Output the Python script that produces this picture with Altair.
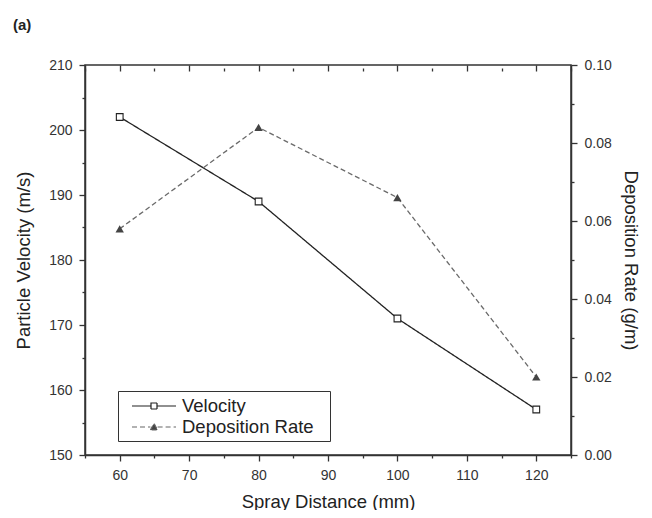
import altair as alt
import pandas as pd

distance = [60, 80, 100, 120]
velocity = [202, 189, 171, 157]
deposition = [0.058, 0.084, 0.066, 0.020]
series_names = ["Velocity", "Deposition Rate"]

x_ticks = list(range(55, 126, 5))
v_ticks = list(range(150, 211, 5))
d_ticks = [round(i * 0.01, 2) for i in range(0, 11)]

vel_df = pd.DataFrame({"x": distance, "y": velocity, "series": series_names[0]})
dep_df = pd.DataFrame({"x": distance, "y": deposition, "series": series_names[1]})

FONT = "Liberation Sans"
AX = "#333333"
xscale = alt.Scale(domain=[55, 125], nice=False, zero=False)
vscale = alt.Scale(domain=[150, 210], nice=False, zero=False)
dscale = alt.Scale(domain=[0, 0.10], nice=False, zero=True)

VEL_PATH = "M-2.2,0H-0.3M0.3,0H2.2M-0.3,-0.3H0.3V0.3H-0.3Z"
DEP_PATH = "M-2.2,0H-0.36M0.36,0H2.2M-0.36,0.3L0,-0.36L0.36,0.3Z"
IS_VEL = "datum.value === 'Velocity'"

legend = alt.Legend(
    title="__",
    titleOrient="right",
    titleColor="white",
    titleFontSize=10,
    titlePadding=0,
    orient="none",
    legendX=33,
    legendY=326,
    strokeColor=AX,
    fillColor="white",
    padding=4,
    cornerRadius=0,
    labelFont=FONT,
    labelFontSize=18.5,
    labelColor="#222222",
    symbolSize=400,
    symbolStrokeWidth=1.2,
    symbolOffset=21,
    rowPadding=0,
    labelOffset=17,
    symbolType=alt.ExprRef(expr=f"{IS_VEL} ? '{VEL_PATH}' : '{DEP_PATH}'"),
    symbolFillColor=alt.ExprRef(expr=f"{IS_VEL} ? 'white' : '#444444'"),
    symbolStrokeColor=alt.ExprRef(expr=f"{IS_VEL} ? '#222222' : '#666666'"),
)

dash = alt.StrokeDash(
    "series:N",
    scale=alt.Scale(domain=series_names, range=[[1, 0], [5, 3]]),
    legend=legend,
)

x_bottom = alt.Axis(
    values=x_ticks,
    labelExpr="datum.value % 10 === 0 ? datum.label : ''",
    tickSize={"condition": {"test": "datum.value % 10 !== 0", "value": 3}, "value": 6},
    title="Spray Distance (mm)",
    titlePadding=10,
    grid=False,
)
x_top = alt.Axis(
    orient="top", values=x_ticks, labels=False, title=None, domain=False,
    offset=-6,
    tickSize={"condition": {"test": "datum.value % 10 !== 0", "value": 3}, "value": 6},
    grid=False,
)
v_axis = alt.Axis(
    orient="left",
    values=v_ticks,
    labelExpr="datum.value % 10 === 0 ? datum.label : ''",
    tickSize={"condition": {"test": "datum.value % 10 !== 0", "value": 3}, "value": 6},
    title="Particle Velocity (m/s)",
    titlePadding=15,
    grid=False,
)
d_axis = alt.Axis(
    orient="right",
    values=d_ticks,
    format=".2f",
    labelExpr="round(datum.value * 100) % 2 === 0 ? datum.label : ''",
    tickSize={"condition": {"test": "round(datum.value * 100) % 2 !== 0", "value": 3}, "value": 6},
    title="Deposition Rate (g/m)",
    titleAngle=90,
    titlePadding=9,
    grid=False,
)

vel_line = alt.Chart(vel_df).mark_line(color="#222222", strokeWidth=1.3).encode(
    x=alt.X("x:Q", scale=xscale, axis=x_bottom),
    y=alt.Y("y:Q", scale=vscale, axis=v_axis),
    strokeDash=dash,
)
vel_pts = alt.Chart(vel_df).mark_point(
    shape="square", size=45, filled=True, fill="white", stroke="#222222", strokeWidth=1.1, opacity=1
).encode(
    x=alt.X("x:Q", scale=xscale, axis=x_top),
    y=alt.Y("y:Q", scale=vscale, axis=None),
)
dep_line = alt.Chart(dep_df).mark_line(color="#6a6a6a", strokeWidth=1.3).encode(
    x=alt.X("x:Q", scale=xscale, axis=None),
    y=alt.Y("y:Q", scale=dscale, axis=d_axis),
    strokeDash=dash,
)
dep_pts = alt.Chart(dep_df).mark_point(
    shape="triangle-up", size=70, filled=True, color="#444444", opacity=1
).encode(
    x=alt.X("x:Q", scale=xscale, axis=None),
    y=alt.Y("y:Q", scale=dscale, axis=None),
)

chart = (
    alt.layer(vel_line, vel_pts, dep_line, dep_pts)
    .resolve_scale(y="independent", x="independent", strokeDash="shared")
    .resolve_axis(x="independent", y="independent")
    .properties(
        width=486,
        height=390,
        autosize=alt.AutoSizeParams(type="none"),
        padding={"left": 77, "top": 57, "right": 73, "bottom": 55},
        title=alt.TitleParams(
            "(a)", anchor="start", frame="group", dx=-72, dy=-21,
            fontSize=15, fontWeight="bold", font=FONT, color="#222222",
        ),
    )
    .configure_view(stroke=AX, strokeWidth=1.5)
    .configure_axis(
        domainColor=AX, domainWidth=1.5, tickColor=AX, tickWidth=1.3,
        labelFont=FONT, labelFontSize=14, labelColor="#333333", labelPadding=7,
        titleFont=FONT, titleFontSize=18.5, titleFontWeight="normal", titleColor="#222222",
    )
)

chart.save("out.html", embed_options={"renderer": "svg", "actions": False})
